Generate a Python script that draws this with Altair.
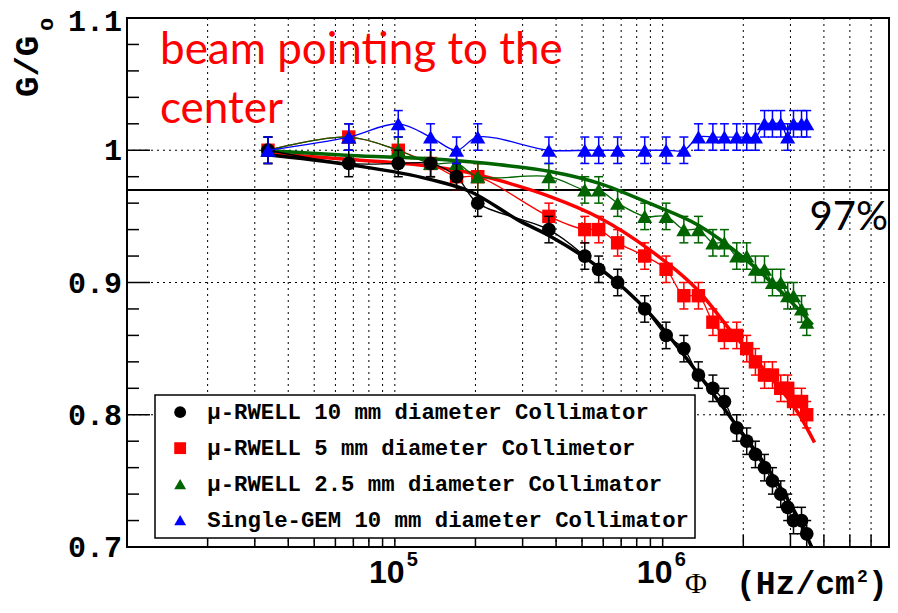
import altair as alt
import pandas as pd

# ---------------- data ----------------
flux = [3.36e4, 6.73e4, 1.03e5, 1.36e5, 1.70e5, 2.04e5, 3.76e5, 5.12e5, 5.77e5,
        6.79e5, 8.57e5, 1.03e6, 1.20e6, 1.36e6, 1.54e6, 1.70e6, 1.89e6, 2.06e6,
        2.22e6, 2.40e6, 2.57e6, 2.76e6, 2.93e6, 3.08e6, 3.30e6, 3.45e6]

g_rwell10 = [1.00, 0.99, 0.99, 0.99, 0.98, 0.96, 0.94, 0.92, 0.91, 0.90, 0.88, 0.86, 0.85,
             0.83, 0.82, 0.81, 0.79, 0.78, 0.77, 0.76, 0.75, 0.74, 0.73, 0.72, 0.72, 0.71]
g_rwell5 = [1.00, 1.01, 1.00, 0.99, 0.98, 0.98, 0.95, 0.94, 0.94, 0.93, 0.92, 0.91, 0.89,
            0.89, 0.87, 0.86, 0.86, 0.85, 0.84, 0.83, 0.83, 0.82, 0.82, 0.81, 0.81, 0.80]
g_rwell25 = [1.00, 1.01, 1.00, 0.99, 0.99, 0.98, 0.98, 0.97, 0.97, 0.96, 0.95, 0.95, 0.94,
             0.94, 0.93, 0.93, 0.92, 0.92, 0.91, 0.91, 0.90, 0.90, 0.89, 0.89, 0.88, 0.87]
g_gem10 = [1.00, 1.01, 1.02, 1.01, 1.00, 1.01, 1.00, 1.00, 1.00, 1.00, 1.00, 1.00, 1.00,
           1.01, 1.01, 1.01, 1.01, 1.01, 1.01, 1.02, 1.02, 1.02, 1.01, 1.02, 1.02, 1.02]
g_err = 0.01

fit_x_rwell10 = [3.2e4, 6.8e4, 1.35e5, 1.9e5, 2.9e5, 3.8e5, 5.8e5, 8.9e5, 1.37e6, 1.9e6, 2.44e6, 3.24e6, 3.6e6]
fit_y_rwell10 = [0.997, 0.989, 0.978, 0.969, 0.947, 0.935, 0.911, 0.877, 0.830, 0.791, 0.761, 0.720, 0.700]
fit_x_rwell5 = [3.2e4, 6.8e4, 1.35e5, 1.9e5, 2.47e5, 3.8e5, 5.8e5, 8.9e5, 1.37e6, 1.82e6, 2.44e6, 3.24e6, 3.69e6]
fit_y_rwell5 = [0.998, 0.993, 0.988, 0.983, 0.977, 0.965, 0.949, 0.925, 0.893, 0.862, 0.832, 0.800, 0.779]
fit_x_rwell25 = [3.2e4, 6.8e4, 1.5e5, 2.47e5, 3.8e5, 5.8e5, 8.9e5, 1.37e6, 2.11e6, 3.24e6, 3.63e6]
fit_y_rwell25 = [1.000, 0.996, 0.993, 0.989, 0.984, 0.975, 0.960, 0.943, 0.915, 0.879, 0.868]

series_names = ["μ-RWELL 10 mm diameter Collimator",
                "μ-RWELL 5 mm diameter Collimetor",
                "μ-RWELL 2.5 mm diameter Collimator",
                "Single-GEM 10 mm diameter Collimator"]
series_colors = ["#000000", "#ff0000", "#006400", "#0000ff"]
series_shapes = ["circle", "square", "triangle-up", "triangle-up"]

grid_x = [2e4, 3e4, 4e4, 5e4, 6e4, 7e4, 8e4, 9e4, 1e5, 2e5, 3e5, 4e5, 5e5, 6e5, 7e5, 8e5,
          9e5, 1e6, 2e6, 3e6, 4e6, 5e6, 6e6]
major_x = [1e5, 1e6]
minor_x = [2e4, 3e4, 4e4, 5e4, 6e4, 7e4, 8e4, 9e4, 2e5, 3e5, 4e5, 5e5, 6e5, 7e5, 8e5, 9e5,
           2e6, 3e6, 4e6, 5e6, 6e6]
x_label_base = ["10", "10"]
x_label_exp = ["5", "6"]
grid_y = [0.8, 0.9, 1.0]
major_y = [0.7, 0.8, 0.9, 1.0, 1.1]
y_labels = ["0.7", "0.8", "0.9", "1", "1.1"]
minor_y = [0.72, 0.74, 0.76, 0.78, 0.82, 0.84, 0.86, 0.88, 0.92, 0.94, 0.96, 0.98,
           1.02, 1.04, 1.06, 1.08]
ref_level = [0.97]

# ---------------- chart ----------------
W, H = 762, 529
xscale = alt.Scale(type="log", domain=[1e4, 7e6], nice=False)
yscale = alt.Scale(domain=[0.7, 1.1], nice=False, zero=False)
cscale = alt.Scale(domain=series_names, range=series_colors)
sscale = alt.Scale(domain=series_names, range=series_shapes)


def X(field="flux"):
    return alt.X(f"{field}:Q", scale=xscale, axis=None)


def Y(field="g"):
    return alt.Y(f"{field}:Q", scale=yscale, axis=None)


one = pd.DataFrame({"a": [0]})
layers = []

# grid
layers.append(alt.Chart(pd.DataFrame({"flux": grid_x})).mark_rule(
    color="black", strokeWidth=1, strokeDash=[2, 4]).encode(
    x=X(), y=alt.value(0), y2=alt.value(H)))
layers.append(alt.Chart(pd.DataFrame({"g": grid_y})).mark_rule(
    color="black", strokeWidth=1, strokeDash=[2, 4]).encode(
    y=Y(), x=alt.value(0), x2=alt.value(W)))
# inner ticks
layers.append(alt.Chart(pd.DataFrame({"flux": major_x})).mark_rule(
    color="black", strokeWidth=1.5).encode(x=X(), y=alt.value(H), y2=alt.value(H - 20)))
layers.append(alt.Chart(pd.DataFrame({"flux": minor_x})).mark_rule(
    color="black", strokeWidth=1.5).encode(x=X(), y=alt.value(H), y2=alt.value(H - 12)))
layers.append(alt.Chart(pd.DataFrame({"g": major_y})).mark_rule(
    color="black", strokeWidth=1.5).encode(y=Y(), x=alt.value(0), x2=alt.value(23)))
layers.append(alt.Chart(pd.DataFrame({"g": minor_y})).mark_rule(
    color="black", strokeWidth=1.5).encode(y=Y(), x=alt.value(0), x2=alt.value(12)))
# 97% line
layers.append(alt.Chart(pd.DataFrame({"g": ref_level})).mark_rule(
    color="black", strokeWidth=2).encode(y=Y(), x=alt.value(0), x2=alt.value(W)))

# tick labels (the top one nudged down so it stays inside the page)
ylab = pd.DataFrame({"g": major_y, "t": y_labels})
layers.append(alt.Chart(ylab.iloc[:-1]).mark_text(
    align="right", baseline="middle", font="Liberation Mono", fontWeight="bold",
    fontSize=30, color="black", dy=1).encode(y=Y(), x=alt.value(-5), text="t:N"))
layers.append(alt.Chart(ylab.iloc[-1:]).mark_text(
    align="right", baseline="middle", font="Liberation Mono", fontWeight="bold",
    fontSize=30, color="black", dy=4).encode(y=Y(), x=alt.value(-5), text="t:N"))
layers.append(alt.Chart(pd.DataFrame({"flux": major_x, "t": x_label_base})).mark_text(
    align="center", baseline="alphabetic", font="Liberation Sans", fontWeight="bold",
    fontSize=32, color="black", dx=-8).encode(x=X(), y=alt.value(H + 36), text="t:N"))
layers.append(alt.Chart(pd.DataFrame({"flux": major_x, "t": x_label_exp})).mark_text(
    align="left", baseline="alphabetic", font="Liberation Sans", fontWeight="bold",
    fontSize=20, color="black", dx=12).encode(x=X(), y=alt.value(H + 19), text="t:N"))

# series (drawing order: red, green, black, blue)
fits = {0: (fit_x_rwell10, fit_y_rwell10), 1: (fit_x_rwell5, fit_y_rwell5),
        2: (fit_x_rwell25, fit_y_rwell25)}
values = [g_rwell10, g_rwell5, g_rwell25, g_gem10]
sizes = [190, 180, 230, 230]
leg = alt.Legend(title=None)
for i in [1, 2, 0, 3]:
    col = series_colors[i]
    d = pd.DataFrame({"flux": flux, "g": values[i], "series": series_names[i]})
    d["lo"] = d["g"] - g_err
    d["hi"] = d["g"] + g_err
    base = alt.Chart(d)
    layers.append(base.mark_rule(color=col, strokeWidth=1.5, clip=True).encode(
        x=X(), y=Y("lo"), y2="hi:Q"))
    layers.append(base.mark_tick(orient="horizontal", size=9, thickness=1.5, color=col,
                                 opacity=1, clip=True).encode(x=X(), y=Y("lo")))
    layers.append(base.mark_tick(orient="horizontal", size=9, thickness=1.5, color=col,
                                 opacity=1, clip=True).encode(x=X(), y=Y("hi")))
    layers.append(base.mark_line(interpolate="catmull-rom", strokeWidth=1.3, color=col,
                                 clip=True).encode(x=X(), y=Y()))
    if i in fits:
        fx, fy = fits[i]
        layers.append(alt.Chart(pd.DataFrame({"flux": fx, "g": fy})).mark_line(
            interpolate="monotone", strokeWidth=3.5, color=col, clip=True).encode(
            x=X(), y=Y()))
    layers.append(base.mark_point(filled=True, size=sizes[i], opacity=1, strokeWidth=0,
                                  clip=True).encode(
        x=X(), y=Y(),
        color=alt.Color("series:N", scale=cscale, legend=leg),
        shape=alt.Shape("series:N", scale=sscale, legend=leg)))

# annotations
layers.append(alt.Chart(one).mark_text(
    text="beam pointing to the", align="left", baseline="alphabetic", font="Lato",
    fontSize=44, color="#ff0000").encode(x=alt.value(33), y=alt.value(46)))
layers.append(alt.Chart(one).mark_text(
    text="center", align="left", baseline="alphabetic", font="Lato",
    fontSize=44, color="#ff0000").encode(x=alt.value(33), y=alt.value(105)))
layers.append(alt.Chart(one).mark_text(
    text="97%", align="right", baseline="alphabetic", font="Lato",
    fontSize=40, color="black").encode(x=alt.value(761), y=alt.value(212)))
# axis titles
layers.append(alt.Chart(one).mark_text(
    text="G/G", align="left", baseline="alphabetic", angle=270, font="Liberation Mono",
    fontWeight="bold", fontSize=34, color="black").encode(x=alt.value(-89), y=alt.value(79)))
layers.append(alt.Chart(one).mark_text(
    text="o", align="left", baseline="alphabetic", angle=270, font="Liberation Mono",
    fontWeight="bold", fontSize=22, color="black").encode(x=alt.value(-74), y=alt.value(13)))
layers.append(alt.Chart(one).mark_text(
    text="Φ", align="center", baseline="alphabetic", font="Liberation Serif",
    fontSize=30, color="black").encode(x=alt.value(569), y=alt.value(H + 46)))
layers.append(alt.Chart(one).mark_text(
    text="(Hz/cm", align="left", baseline="alphabetic", font="Liberation Mono",
    fontWeight="bold", fontSize=33, color="black").encode(x=alt.value(609), y=alt.value(H + 47)))
layers.append(alt.Chart(one).mark_text(
    text="2", align="left", baseline="alphabetic", font="Liberation Mono",
    fontWeight="bold", fontSize=18, color="black").encode(x=alt.value(730), y=alt.value(H + 35)))
layers.append(alt.Chart(one).mark_text(
    text=")", align="left", baseline="alphabetic", font="Liberation Mono",
    fontWeight="bold", fontSize=33, color="black").encode(x=alt.value(741), y=alt.value(H + 47)))

chart = alt.layer(*layers).properties(
    width=W, height=H,
    autosize=alt.AutoSizeParams(type="none"),
    padding={"left": 119, "top": 10, "right": 1, "bottom": 58},
).configure_view(
    stroke="black", strokeWidth=2
).configure_legend(
    orient="none", legendX=28, legendY=377, fillColor="white", strokeColor="black",
    strokeWidth=1.5, padding=6, rowPadding=13, labelFont="Liberation Mono",
    labelFontWeight="bold", labelFontSize=22.3, labelColor="black", labelLimit=1000,
    symbolSize=140, symbolOffset=8, labelOffset=16, symbolStrokeWidth=0
)

chart.save("out.html", embed_options={"renderer": "svg", "actions": False})
